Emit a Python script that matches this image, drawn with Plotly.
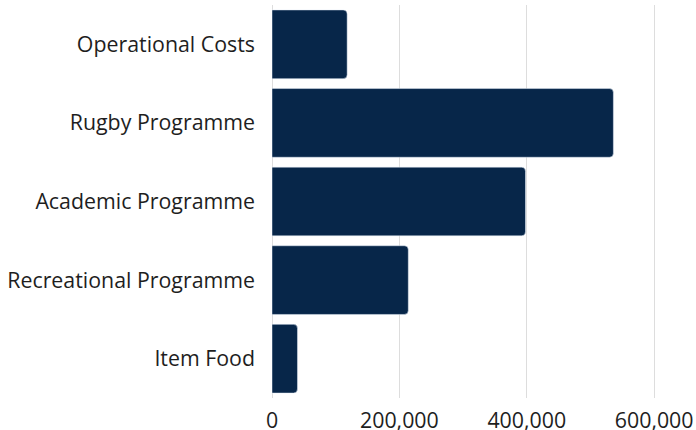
import plotly.graph_objects as go

categories = ["Item Food", "Recreational Programme", "Academic Programme", "Rugby Programme", "Operational Costs"]
values = [40000, 214000, 398000, 536000, 118000]
tick_vals = [0, 200000, 400000, 600000]
tick_text = ["0", "200,000", "400,000", "600,000"]

fig = go.Figure(go.Bar(
    x=values, y=categories, orientation="h",
    marker=dict(color="#072649", cornerradius=4),
    hoverinfo="x+y",
))

fig.update_layout(
    width=696, height=430,
    margin=dict(l=272, r=10, t=5, b=32, pad=0),
    paper_bgcolor="white", plot_bgcolor="white",
    font=dict(family="Open Sans", size=21.35, color="#1e1e1e"),
    bargap=0.126,
    showlegend=False,
    xaxis=dict(range=[0, 650000], tickvals=tick_vals, ticktext=tick_text,
               showgrid=True, gridcolor="#dddddd", gridwidth=1,
               zeroline=True, zerolinecolor="#dddddd", zerolinewidth=1,
               showline=False, ticks="", ticklen=0, ticklabelstandoff=8,
               automargin=False),
    yaxis=dict(showgrid=False, zeroline=False, showline=False, ticks="",
               ticklabelstandoff=16, automargin=False),
)

fig.write_html("out.html", config={"displayModeBar": False},
               post_script="document.body.style.margin='0';")
